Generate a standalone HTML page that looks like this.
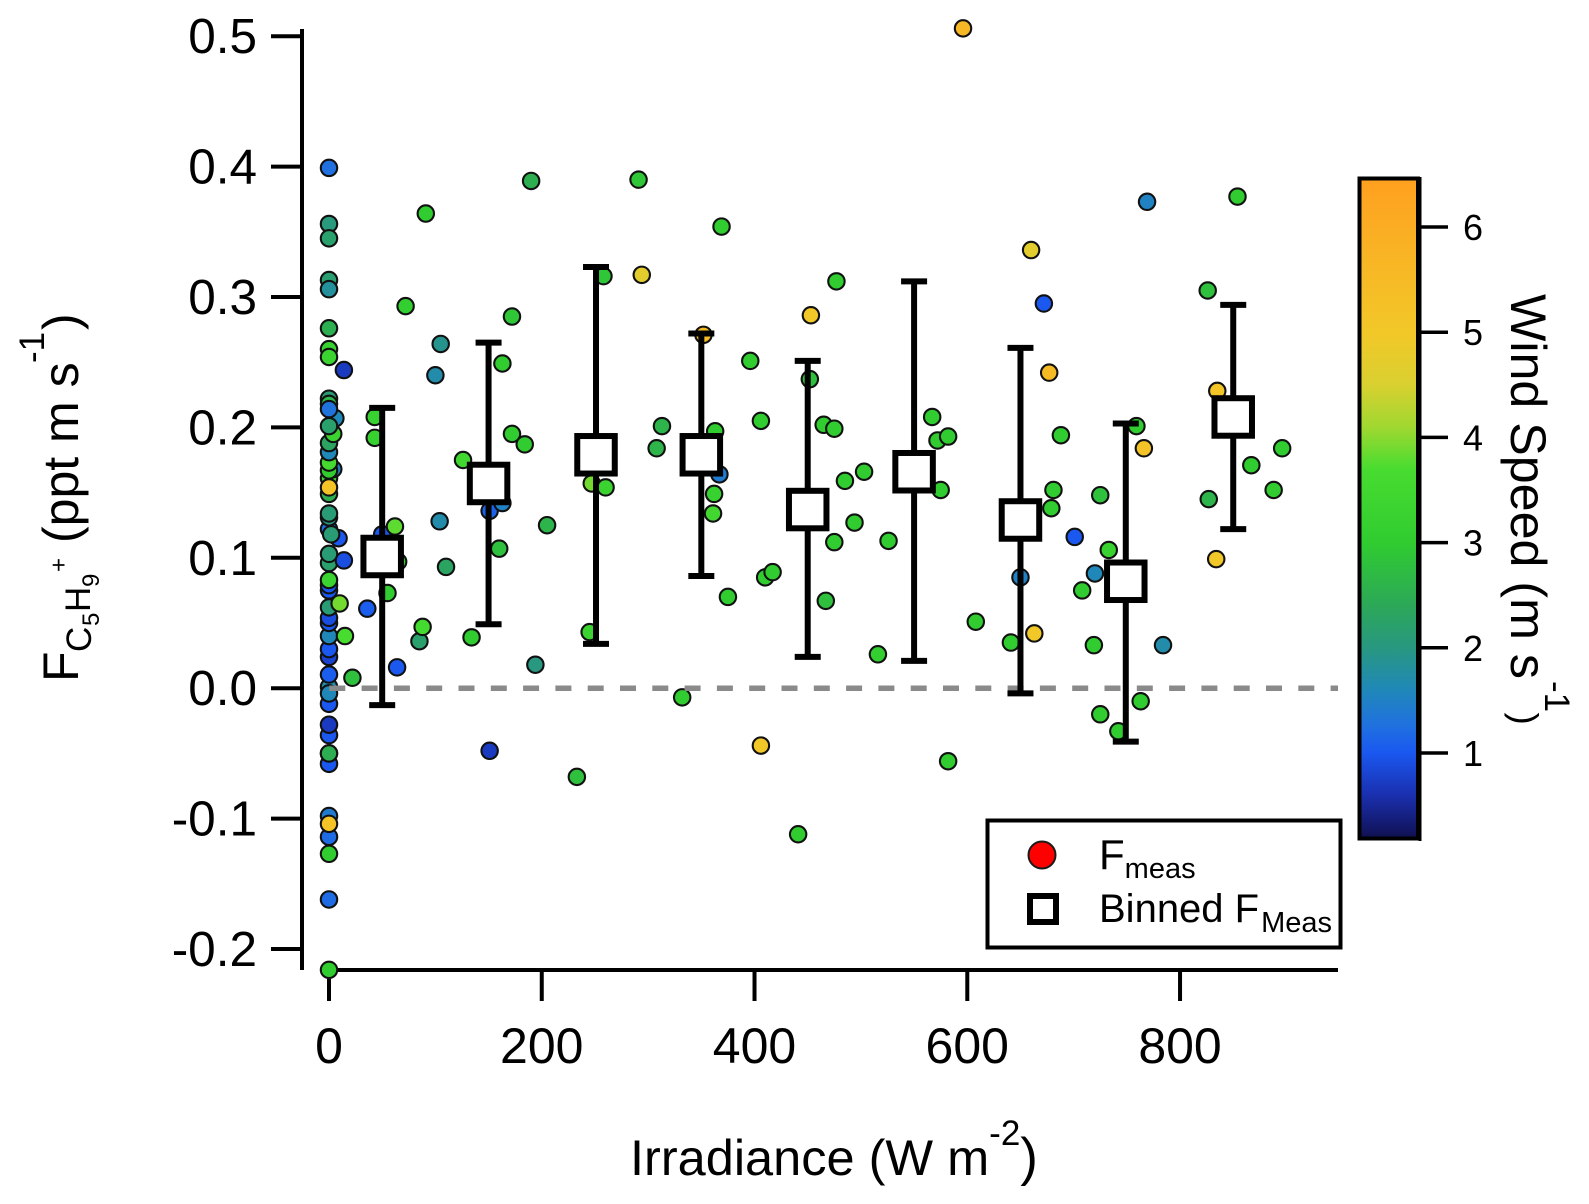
<!DOCTYPE html>
<html>
<head>
<meta charset="utf-8">
<title>Isoprene flux vs irradiance</title>
<style>
html,body{margin:0;padding:0;background:#fff;width:1589px;height:1204px;overflow:hidden}
svg{display:block}
text{font-family:"Liberation Sans",Arial,sans-serif;fill:#000}
</style>
</head>
<body>
<svg id="chart" xmlns="http://www.w3.org/2000/svg" width="1589" height="1204" viewBox="0 0 1589 1204">
  <defs>
    <linearGradient id="wind-gradient" x1="0" y1="1" x2="0" y2="0"></linearGradient>
  </defs>
  <line x1="302" y1="29" x2="302" y2="970" stroke="#000" stroke-width="4"></line>
  <line x1="329" y1="970" x2="1338" y2="970" stroke="#000" stroke-width="4"></line>
  <g id="y-axis"></g>
  <g id="x-axis"></g>
  <g id="points"></g>
  <line x1="329.3" y1="688.2" x2="1338" y2="688.2" stroke="#8a8a8a" stroke-width="5.5" stroke-dasharray="16 16.3"></line>
  <g id="bins"></g>

  <text x="630" y="1175" font-size="50.5">Irradiance (W m<tspan font-size="35" dy="-30">-2</tspan><tspan font-size="53" dy="30">)</tspan></text>

  <text transform="translate(78,0) rotate(-90)" font-size="50"><tspan x="-682" y="0">F</tspan><tspan font-size="35" x="-652" y="13">C</tspan><tspan font-size="24" x="-626" y="21">5</tspan><tspan font-size="35" x="-612" y="12">H</tspan><tspan font-size="24" x="-587" y="21">9</tspan><tspan font-size="24" x="-572" y="-11.4">+</tspan><tspan x="-543" y="0">(ppt m s</tspan><tspan font-size="35" x="-363" y="-34">-1</tspan><tspan x="-330" y="0">)</tspan></text>

  <rect id="colorbar" x="1359.5" y="178.5" width="58.5" height="660" stroke="#000" stroke-width="4" fill="url(#wind-gradient)"></rect>
  <line x1="1420" y1="177" x2="1420" y2="841" stroke="#000" stroke-width="3"></line>
  <g id="colorbar-axis"></g>
  <text transform="translate(1511,294) rotate(90)" font-size="50.2">Wind Speed (m s</text>
  <text transform="translate(1545,681) rotate(90)" font-size="35">-1</text>
  <text transform="translate(1512,712.5) rotate(90)" font-size="37">)</text>

  <g>
    <rect x="987.5" y="820.5" width="353" height="127" fill="#fff" stroke="#000" stroke-width="4"></rect>
    <circle cx="1042" cy="855" r="13.5" fill="#ff0000" stroke="#1a1a1a" stroke-width="2"></circle>
    <text x="1099" y="869" font-size="42">F<tspan font-size="29" dy="9">meas</tspan></text>
    <rect x="1030" y="896" width="26" height="26" fill="#fff" stroke="#000" stroke-width="6"></rect>
    <text x="1099" y="922" font-size="40">Binned F<tspan font-size="29" dx="2" dy="10">Meas</tspan></text>
  </g>
</svg>
<script>
const irradiance = [
  0,0,0,0,0,0,0,0,0,0,
  0,0,0,0,0,0,0,0,0,0,
  0,0,0,0,0,9,14,0,2,0,
  0,0,0,0,0,4,0,0,0,0,
  4,6,0,0,0,0,0,0,0,0,
  0,0,0,0,14,10,15,22,36,43,
  43,50,62,65,55,64,72,85,88,91,
  104,100,105,110,126,134,151,151,163,160,
  163,172,172,184,190,205,194,233,247,260,
  245,258,291,294,313,308,332,352,367,363,
  362,361,369,375,396,406,406,410,417,441,
  452,453,465,475,477,475,467,485,494,503,
  516,526,567,572,582,575,582,596,608,641,
  650,660,663,672,677,679,681,688,701,708,
  720,719,725,725,733,742,759,763,766,769,
  784,826,827,834,835,854,867,888,896
];
const flux = [
  -0.216,-0.162,-0.127,-0.114,-0.098,-0.104,-0.058,-0.050,-0.050,-0.036,
  -0.028,-0.012,0.001,-0.004,0.0105,0.024,0.030,0.040,0.050,0.054,
  0.062,0.075,0.079,0.096,0.083,0.115,0.098,0.122,0.118,0.103,
  0.131,0.134,0.149,0.161,0.154,0.168,0.167,0.173,0.181,0.188,
  0.195,0.207,0.201,0.222,0.218,0.214,0.260,0.254,0.276,0.313,
  0.306,0.356,0.345,0.399,0.244,0.065,0.040,0.008,0.061,0.208,
  0.192,0.118,0.124,0.097,0.073,0.016,0.293,0.036,0.047,0.364,
  0.128,0.240,0.264,0.093,0.175,0.039,-0.048,0.136,0.142,0.107,
  0.249,0.285,0.195,0.187,0.389,0.125,0.018,-0.068,0.157,0.154,
  0.043,0.316,0.390,0.317,0.201,0.184,-0.007,0.271,0.164,0.197,
  0.149,0.134,0.354,0.070,0.251,0.205,-0.044,0.085,0.089,-0.112,
  0.237,0.286,0.202,0.199,0.312,0.112,0.067,0.159,0.127,0.166,
  0.026,0.113,0.208,0.190,0.193,0.152,-0.056,0.506,0.051,0.035,
  0.085,0.336,0.042,0.295,0.242,0.138,0.152,0.194,0.116,0.075,
  0.088,0.033,0.148,-0.020,0.106,-0.033,0.201,-0.010,0.184,0.373,
  0.033,0.305,0.145,0.099,0.228,0.377,0.171,0.152,0.184
];
const windSpeed = [
  3.0,1.2,3.0,1.2,1.4,5.2,1.0,0.9,2.5,1.0,
  0.7,1.0,1.7,1.6,1.05,0.8,1.0,1.6,1.0,0.9,
  2.1,1.0,1.0,2.2,3.3,1.0,0.9,1.2,2.1,2.1,
  2.0,2.1,2.5,3.4,5.2,1.5,3.0,3.6,1.6,2.3,
  3.3,1.6,2.2,2.1,2.6,1.3,3.2,3.3,2.5,2.15,
  1.8,2.05,2.2,1.25,0.7,3.9,3.7,2.8,1.05,3.2,
  3.2,1.0,3.8,3.0,3.0,1.0,3.1,2.2,3.6,3.0,
  1.7,1.7,1.9,2.3,3.5,3.0,0.7,1.1,1.5,2.8,
  3.0,2.9,3.0,3.0,2.5,2.6,2.0,2.8,3.9,3.3,
  3.3,2.9,2.9,4.7,2.6,2.6,3.0,5.5,1.4,3.0,
  3.2,3.5,3.0,3.0,3.0,3.0,5.0,3.0,3.0,3.0,
  2.8,5.0,3.0,3.0,3.0,3.0,2.8,3.0,3.0,3.0,
  3.1,3.0,3.0,3.0,3.0,3.0,3.0,5.6,3.0,3.0,
  1.5,4.7,5.0,1.0,5.5,3.0,3.0,3.0,1.0,3.0,
  1.6,3.0,2.8,3.0,3.2,3.0,3.0,3.0,5.2,1.5,
  1.7,2.8,2.6,5.0,5.1,3.0,3.0,3.0,3.0
];

const binCenters = [50,150,251,350,450,550,650,749,850];
const binMeans = [0.101,0.157,0.179,0.179,0.137,0.166,0.129,0.082,0.208];
const binUpper = [0.215,0.265,0.323,0.272,0.251,0.312,0.261,0.203,0.294];
const binLower = [-0.013,0.049,0.034,0.086,0.024,0.021,-0.004,-0.041,0.122];

const xTickValues = [0,200,400,600,800];
const yTickValues = [-0.2,-0.1,0,0.1,0.2,0.3,0.4,0.5];
const windTickValues = [1,2,3,4,5,6];

const windStopValues = [0.18,0.6,1.0,1.25,1.6,2.0,2.4,3.0,3.7,4.1,4.5,5.0,6.47];
const windStopColors = ['#101050','#1a30b0','#1a58f0','#2070e0','#2088b8','#289880','#2ca858','#30cc30','#48dc30','#a0d830','#d8d030','#f2c828','#ffa020'];

const NS = 'http://www.w3.org/2000/svg';
function xScale(v){ return 329 + v * 1.0638; }
function yScale(v){ return 688.2 - v * 1304; }
function windScale(v){ return 753 - (v - 1) * 105.2; }

function hexToRgb(h){
  return [parseInt(h.slice(1,3),16),parseInt(h.slice(3,5),16),parseInt(h.slice(5,7),16)];
}
function windColor(v){
  const s = windStopValues;
  if (v <= s[0]) return windStopColors[0];
  for (let i = 1; i < s.length; i++) {
    if (v <= s[i]) {
      const t = (v - s[i-1]) / (s[i] - s[i-1]);
      const a = hexToRgb(windStopColors[i-1]);
      const b = hexToRgb(windStopColors[i]);
      return 'rgb(' + a.map(function(c,k){ return Math.round(c + (b[k]-c)*t); }).join(',') + ')';
    }
  }
  return windStopColors[windStopColors.length-1];
}
function make(tag, attrs, parent){
  const el = document.createElementNS(NS, tag);
  for (const k in attrs) el.setAttribute(k, attrs[k]);
  parent.appendChild(el);
  return el;
}

const gradient = document.getElementById('wind-gradient');
const barMin = windStopValues[0];
const barMax = windStopValues[windStopValues.length-1];
windStopValues.forEach(function(v,i){
  make('stop', {offset: ((v-barMin)/(barMax-barMin)).toFixed(4), 'stop-color': windStopColors[i]}, gradient);
});

const pointsGroup = document.getElementById('points');
irradiance.forEach(function(x,i){
  const c = make('circle', {cx: xScale(x), cy: yScale(flux[i]), r: 8.2, fill: windColor(windSpeed[i]), stroke: '#111', 'stroke-width': 2.1}, pointsGroup);
  
  
});

const binsGroup = document.getElementById('bins');
binCenters.forEach(function(x,i){
  const cx = xScale(x);
  const stem = make('line', {x1: cx, x2: cx, y1: yScale(binUpper[i]), y2: yScale(binLower[i]), stroke: '#000', 'stroke-width': 6}, binsGroup);
  
  
  const capTop = make('line', {x1: cx-13, x2: cx+13, y1: yScale(binUpper[i]), y2: yScale(binUpper[i]), stroke: '#000', 'stroke-width': 6}, binsGroup);
  
  
  const capBottom = make('line', {x1: cx-13, x2: cx+13, y1: yScale(binLower[i]), y2: yScale(binLower[i]), stroke: '#000', 'stroke-width': 6}, binsGroup);
  
  
  const box = make('rect', {x: cx-18.75, y: yScale(binMeans[i])-18.75, width: 37.5, height: 37.5, fill: '#fff', stroke: '#000', 'stroke-width': 6}, binsGroup);
  
  
});

const yAxisGroup = document.getElementById('y-axis');
yTickValues.forEach(function(v){
  const y = yScale(v);
  const tick = make('line', {x1: 271, x2: 302, y1: y, y2: y, stroke: '#000', 'stroke-width': 4}, yAxisGroup);
  
  
  const label = make('text', {x: 257, y: y + 17, 'font-size': 49.5, 'text-anchor': 'end'}, yAxisGroup);
  label.textContent = v.toFixed(1);
  
  
});

const xAxisGroup = document.getElementById('x-axis');
xTickValues.forEach(function(v){
  const x = xScale(v);
  const tick = make('line', {x1: x, x2: x, y1: 970, y2: 1001, stroke: '#000', 'stroke-width': 4}, xAxisGroup);
  
  
  const label = make('text', {x: x, y: 1063, 'font-size': 50, 'text-anchor': 'middle'}, xAxisGroup);
  label.textContent = String(v);
  
  
});

const windAxisGroup = document.getElementById('colorbar-axis');
windTickValues.forEach(function(v){
  const y = windScale(v);
  const tick = make('line', {x1: 1420, x2: 1448, y1: y, y2: y, stroke: '#000', 'stroke-width': 3.5}, windAxisGroup);
  
  
  const label = make('text', {x: 1473, y: y + 13, 'font-size': 36, 'text-anchor': 'middle'}, windAxisGroup);
  label.textContent = String(v);
  
  
});
</script>
</body>
</html>
